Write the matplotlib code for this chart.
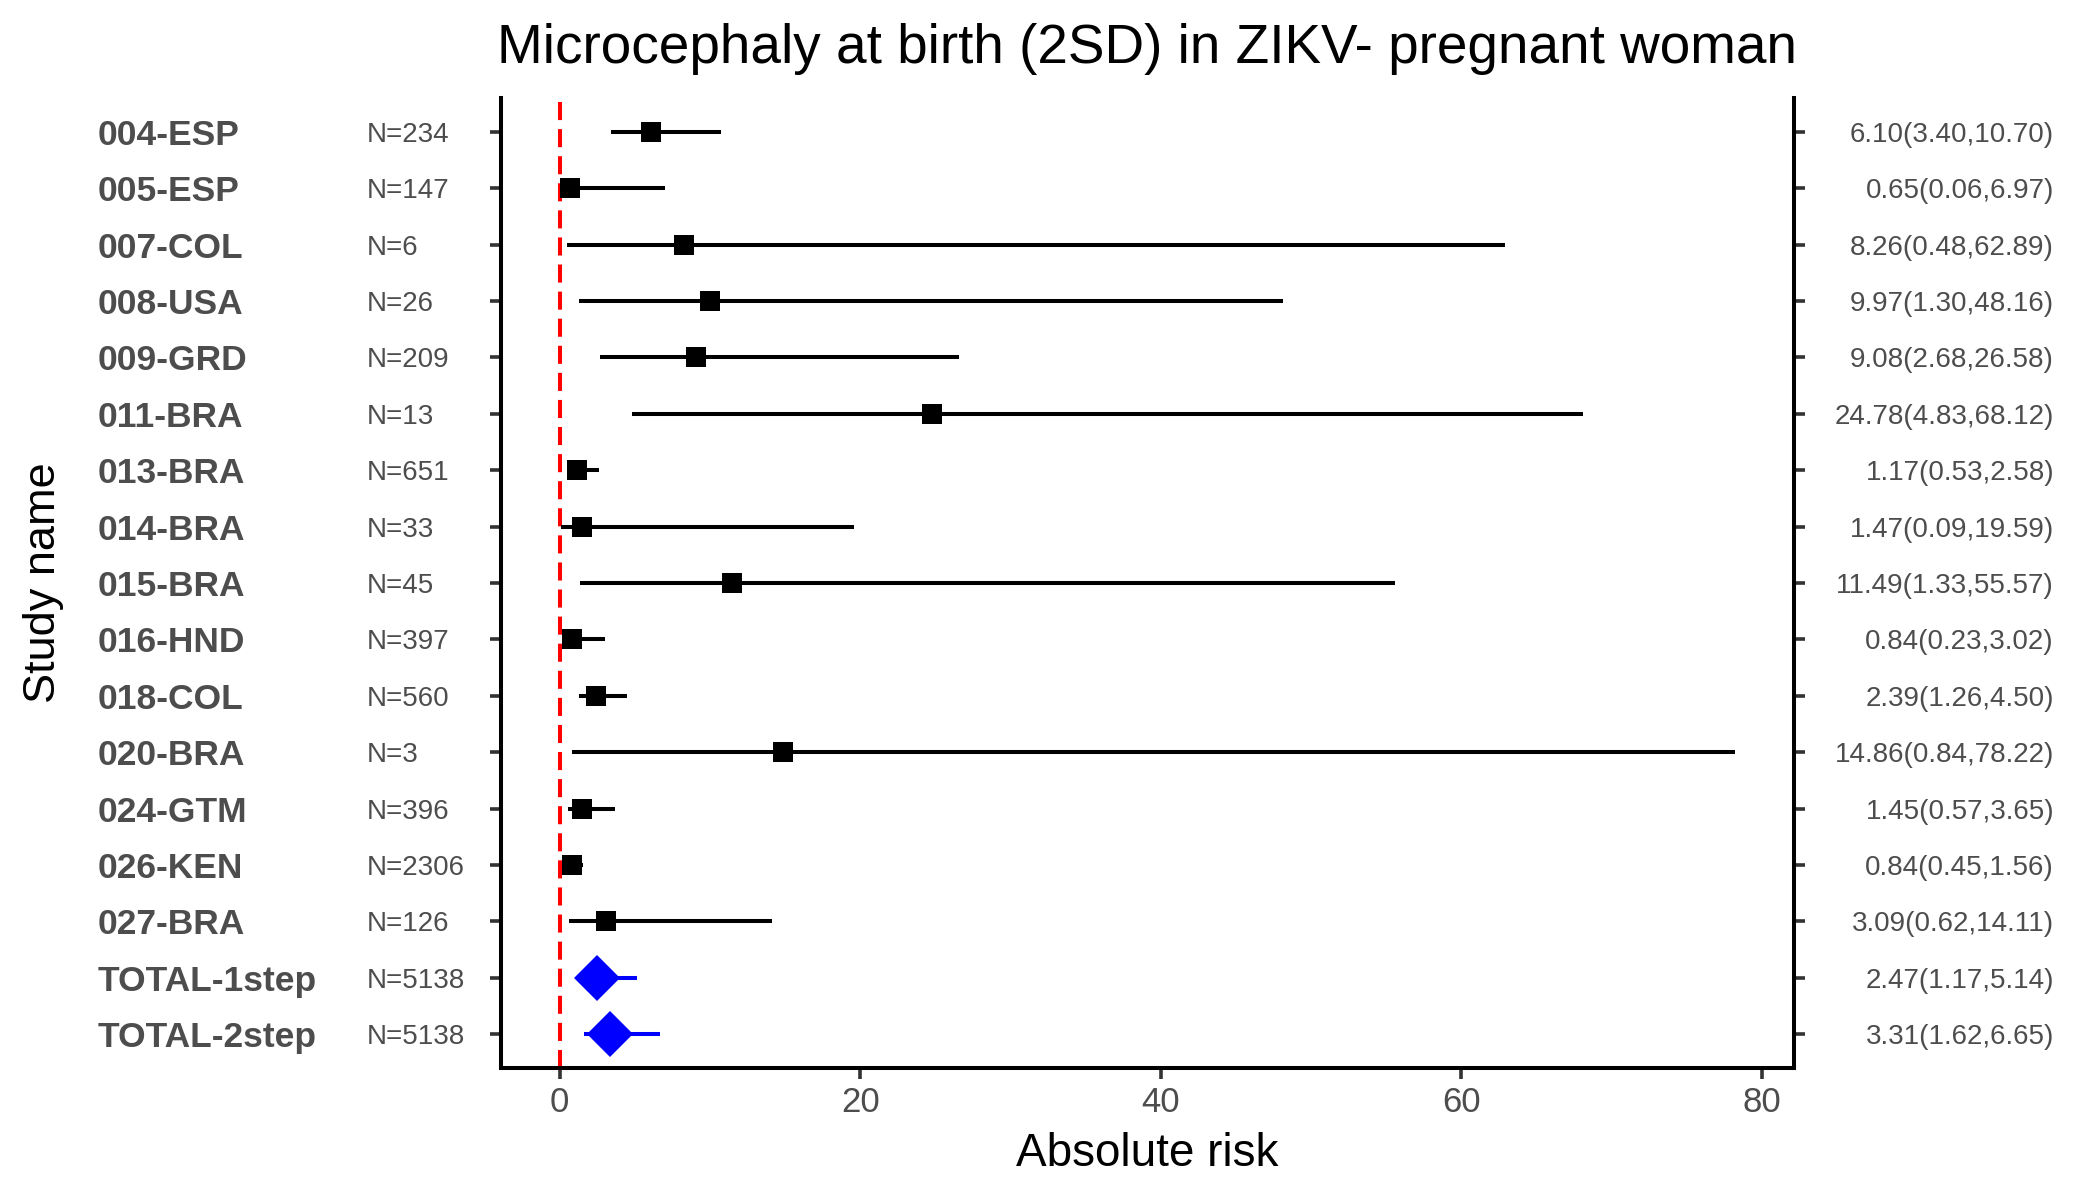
import matplotlib
matplotlib.use("Agg")
import matplotlib.pyplot as plt
import matplotlib.transforms as mtransforms
import numpy as np

plt.rcParams.update({
    "font.family": ["Liberation Sans", "DejaVu Sans"],
    "lines.scale_dashes": False,
})

studies = ["004-ESP", "005-ESP", "007-COL", "008-USA", "009-GRD", "011-BRA",
           "013-BRA", "014-BRA", "015-BRA", "016-HND", "018-COL", "020-BRA",
           "024-GTM", "026-KEN", "027-BRA", "TOTAL-1step", "TOTAL-2step"]
n_obs = [234, 147, 6, 26, 209, 13, 651, 33, 45, 397, 560, 3, 396, 2306, 126,
         5138, 5138]
est = [6.10, 0.65, 8.26, 9.97, 9.08, 24.78, 1.17, 1.47, 11.49, 0.84, 2.39,
       14.86, 1.45, 0.84, 3.09, 2.47, 3.31]
lower = [3.40, 0.06, 0.48, 1.30, 2.68, 4.83, 0.53, 0.09, 1.33, 0.23, 1.26,
         0.84, 0.57, 0.45, 0.62, 1.17, 1.62]
upper = [10.70, 6.97, 62.89, 48.16, 26.58, 68.12, 2.58, 19.59, 55.57, 3.02,
         4.50, 78.22, 3.65, 1.56, 14.11, 5.14, 6.65]
is_total = [False] * 15 + [True, True]
x_ticks = [0, 20, 40, 60, 80]

W, H = 2100, 1200
fig = plt.figure(figsize=(21, 12), dpi=100)
ax = fig.add_axes([501 / W, 1 - 1068 / H, (1794 - 501) / W, (1068 - 98) / H])

ypos = np.arange(len(studies))
gray30 = "#4D4D4D"

ax.axvline(0, color="red", lw=2.9, linestyle=(0, (13, 6.5)), zorder=1)

for i in range(len(studies)):
    c = "blue" if is_total[i] else "black"
    ax.plot([lower[i], upper[i]], [ypos[i], ypos[i]], color=c, lw=2.9,
            solid_capstyle="butt", zorder=2)
    if is_total[i]:
        ax.plot(est[i], ypos[i], marker="D", color="blue", markersize=23.5,
                markeredgewidth=0, zorder=3)
    else:
        ax.plot(est[i], ypos[i], marker="s", color="black", markersize=14.5,
                markeredgewidth=0, zorder=3)

xmin = min(0, min(lower))
xmax = max(upper)
pad = (xmax - xmin) * 0.05
ax.set_xlim(xmin - pad, xmax + pad)
ax.set_ylim(len(studies) - 1 + 0.6, -0.6)

ax.set_xticks(x_ticks)
ax.set_xticklabels([str(t) for t in x_ticks], fontsize=25, color=gray30)
ax.set_yticks(ypos)
ax.set_yticklabels([])
ax.tick_params(axis="both", direction="out", length=8, width=2.6,
               color="#333333")
ax.tick_params(axis="x", pad=5)
ax.tick_params(axis="y", left=True, right=True)

for side in ["left", "bottom", "right"]:
    ax.spines[side].set_linewidth(2.9)
    ax.spines[side].set_color("black")
ax.spines["top"].set_visible(False)

ax.set_xlabel("Absolute risk", fontsize=33, labelpad=9)

trans = mtransforms.blended_transform_factory(fig.transFigure, ax.transData)
for i in range(len(studies)):
    ax.text(98 / W, ypos[i], studies[i], transform=trans, fontsize=25.5,
            fontweight="bold", color=gray30, ha="left", va="center_baseline")
    ax.text(367 / W, ypos[i], f"N={n_obs[i]}", transform=trans, fontsize=20,
            color=gray30, ha="left", va="center_baseline")
    ax.text(2054 / W, ypos[i], f"{est[i]:.2f}({lower[i]:.2f},{upper[i]:.2f})",
            transform=trans, fontsize=20, color=gray30, ha="right",
            va="center_baseline")

fig.text(1147 / W, 1 - 63 / H,
         "Microcephaly at birth (2SD) in ZIKV- pregnant woman",
         fontsize=39.5, ha="center", va="baseline")
fig.text(44 / W, 1 - 583 / H, "Study name", fontsize=32.5, rotation=90,
         ha="center", va="center")

fig.savefig("out.png", dpi=100, facecolor="white")
